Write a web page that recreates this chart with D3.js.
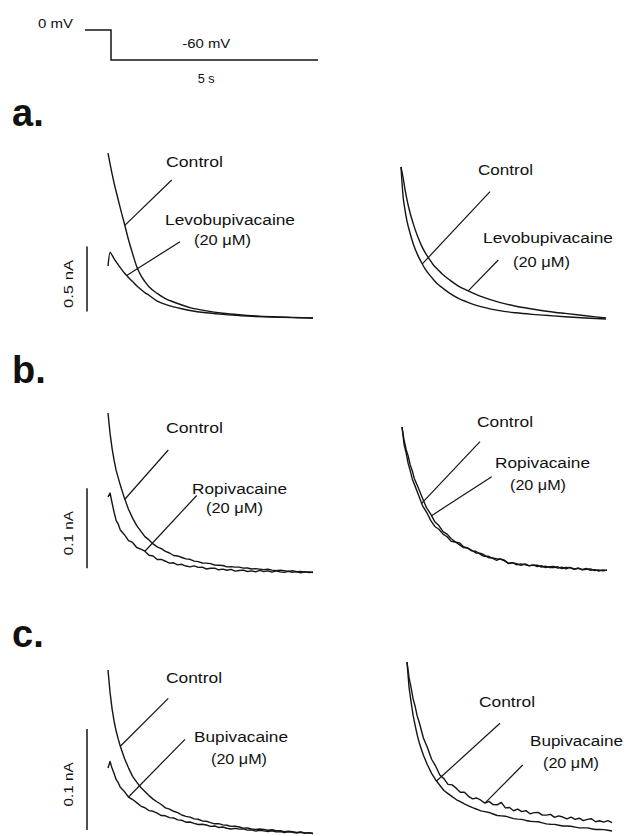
<!DOCTYPE html>
<html>
<head>
<meta charset="utf-8">
<script src="https://cdn.jsdelivr.net/npm/d3@7"></script>
<style>
html,body{margin:0;padding:0;background:#fff;}
svg text{font-family:"Liberation Sans",Arial,Helvetica,sans-serif;fill:#111;}
</style>
</head>
<body>
<svg id="fig" width="626" height="836"></svg>
<script>
// ===================== DATA =====================
// Voltage protocol (time in s, voltage in mV)
const protocolTime = [-0.63, 0, 0, 5];
const protocolVoltage = [0, 0, -60, -60];
const protocolLabels = ["0 mV", "-60 mV", "5 s"];

const panelLetters = ["a.", "b.", "c."];
const controlLabel = "Control";
const drugNames = ["Levobupivacaine", "Ropivacaine", "Bupivacaine"];
const concLabel = "(20 μM)";
const scaleBarValues = [0.5, 0.1, 0.1];            // nA
const scaleBarLabels = ["0.5 nA", "0.1 nA", "0.1 nA"];

// time bases (s)
const timeSmooth = [0, 0.05, 0.1, 0.15, 0.2, 0.3, 0.4, 0.5, 0.6, 0.7, 0.8, 0.9, 1.0, 1.2, 1.4, 1.6, 1.8, 2.0, 2.4, 2.8, 3.2, 3.6, 4.0, 4.5, 5.0];
const timeNoisy = [0, 0.05, 0.1, 0.15, 0.2, 0.25, 0.3, 0.4, 0.5, 0.6, 0.7, 0.8, 0.9, 1.0, 1.1, 1.2, 1.3, 1.4, 1.5, 1.6, 1.7, 1.8, 1.9, 2.0, 2.1, 2.2, 2.3, 2.4, 2.5, 2.6, 2.7, 2.8, 2.9, 3.0, 3.1, 3.2, 3.3, 3.4, 3.5, 3.6, 3.7, 3.8, 3.9, 4.0, 4.1, 4.2, 4.3, 4.4, 4.5, 4.6, 4.7, 4.8, 4.9, 5.0];

// a. left: tail current, nA
const aLeftControl = [1.269, 1.185, 1.108, 1.036, 0.971, 0.845, 0.725, 0.602, 0.495, 0.396, 0.328, 0.280, 0.240, 0.189, 0.149, 0.123, 0.100, 0.080, 0.055, 0.037, 0.025, 0.016, 0.010, 0.005, 0.000];
const aLeftLevo    = [0.400, 0.504, 0.483, 0.455, 0.432, 0.388, 0.346, 0.312, 0.280, 0.248, 0.221, 0.195, 0.175, 0.130, 0.105, 0.086, 0.071, 0.058, 0.040, 0.028, 0.018, 0.012, 0.007, 0.003, 0.000];
// a. right: scaled to peak
const aRightControl = [1.000, 0.810, 0.715, 0.641, 0.588, 0.497, 0.429, 0.376, 0.329, 0.293, 0.262, 0.233, 0.212, 0.172, 0.142, 0.119, 0.099, 0.084, 0.061, 0.047, 0.037, 0.029, 0.021, 0.013, 0.007];
const aRightLevo    = [1.000, 0.932, 0.851, 0.782, 0.722, 0.628, 0.550, 0.486, 0.435, 0.395, 0.356, 0.329, 0.302, 0.259, 0.222, 0.195, 0.171, 0.149, 0.115, 0.090, 0.072, 0.056, 0.043, 0.028, 0.013];

// b. left: nA
const bLeftControl = [0.2000, 0.1745, 0.1555, 0.1406, 0.1279, 0.1189, 0.1099, 0.0936, 0.0796, 0.0686, 0.0593, 0.0524, 0.0455, 0.0414, 0.0364, 0.0327, 0.0304, 0.0271, 0.0250, 0.0219, 0.0213, 0.0194, 0.0176, 0.0171, 0.0148, 0.0142, 0.0125, 0.0123, 0.0117, 0.0100, 0.0097, 0.0094, 0.0077, 0.0080, 0.0073, 0.0074, 0.0061, 0.0063, 0.0050, 0.0055, 0.0048, 0.0042, 0.0047, 0.0036, 0.0030, 0.0035, 0.0030, 0.0021, 0.0029, 0.0016, 0.0018, 0.0011, 0.0013, 0.0005];
const bLeftRopi    = [0.0950, 0.1000, 0.0875, 0.0756, 0.0655, 0.0610, 0.0538, 0.0479, 0.0404, 0.0382, 0.0319, 0.0299, 0.0272, 0.0222, 0.0212, 0.0168, 0.0169, 0.0147, 0.0123, 0.0128, 0.0102, 0.0109, 0.0087, 0.0076, 0.0089, 0.0070, 0.0073, 0.0050, 0.0060, 0.0060, 0.0040, 0.0048, 0.0034, 0.0046, 0.0024, 0.0032, 0.0036, 0.0019, 0.0027, 0.0015, 0.0033, 0.0017, 0.0026, 0.0011, 0.0027, 0.0014, 0.0008, 0.0022, 0.0008, 0.0017, 0.0003, 0.0017, 0.0006, 0.0013];
// b. right: scaled
const bRightControl = [1.000, 0.881, 0.821, 0.749, 0.699, 0.642, 0.606, 0.532, 0.458, 0.412, 0.356, 0.314, 0.295, 0.261, 0.243, 0.211, 0.207, 0.189, 0.168, 0.165, 0.146, 0.143, 0.124, 0.108, 0.109, 0.096, 0.081, 0.091, 0.081, 0.060, 0.064, 0.049, 0.056, 0.051, 0.042, 0.049, 0.038, 0.043, 0.031, 0.037, 0.038, 0.027, 0.033, 0.022, 0.032, 0.021, 0.026, 0.015, 0.019, 0.021, 0.010, 0.015, 0.008, 0.013];
const bRightRopi    = [1.000, 0.911, 0.845, 0.801, 0.738, 0.699, 0.645, 0.579, 0.509, 0.442, 0.399, 0.347, 0.320, 0.278, 0.261, 0.229, 0.208, 0.201, 0.174, 0.166, 0.150, 0.131, 0.130, 0.119, 0.100, 0.097, 0.092, 0.089, 0.077, 0.058, 0.063, 0.057, 0.046, 0.055, 0.044, 0.047, 0.047, 0.034, 0.040, 0.031, 0.031, 0.036, 0.024, 0.032, 0.029, 0.018, 0.027, 0.017, 0.024, 0.012, 0.016, 0.007, 0.015, 0.011];

// c. left: nA
const cLeftControl = [0.1624, 0.1402, 0.1237, 0.1114, 0.1017, 0.0939, 0.0869, 0.0750, 0.0655, 0.0571, 0.0514, 0.0460, 0.0420, 0.0380, 0.0345, 0.0317, 0.0292, 0.0259, 0.0247, 0.0225, 0.0212, 0.0188, 0.0175, 0.0167, 0.0150, 0.0146, 0.0129, 0.0126, 0.0113, 0.0101, 0.0103, 0.0090, 0.0087, 0.0075, 0.0077, 0.0069, 0.0058, 0.0059, 0.0050, 0.0046, 0.0050, 0.0045, 0.0037, 0.0042, 0.0032, 0.0032, 0.0024, 0.0028, 0.0024, 0.0016, 0.0020, 0.0011, 0.0011, 0.0005];
const cLeftBupi    = [0.0653, 0.0718, 0.0650, 0.0597, 0.0538, 0.0508, 0.0462, 0.0420, 0.0366, 0.0341, 0.0311, 0.0277, 0.0260, 0.0231, 0.0225, 0.0206, 0.0183, 0.0180, 0.0162, 0.0159, 0.0140, 0.0136, 0.0117, 0.0119, 0.0105, 0.0094, 0.0097, 0.0089, 0.0075, 0.0079, 0.0065, 0.0069, 0.0057, 0.0050, 0.0056, 0.0048, 0.0051, 0.0038, 0.0041, 0.0029, 0.0037, 0.0031, 0.0024, 0.0032, 0.0021, 0.0024, 0.0015, 0.0022, 0.0017, 0.0010, 0.0017, 0.0008, 0.0012, 0.0005];
// c. right: scaled
const cRightControl = [1.000, 0.851, 0.764, 0.684, 0.626, 0.570, 0.524, 0.451, 0.394, 0.345, 0.306, 0.275, 0.244, 0.226, 0.208, 0.191, 0.178, 0.165, 0.154, 0.143, 0.134, 0.124, 0.120, 0.115, 0.106, 0.097, 0.095, 0.093, 0.086, 0.079, 0.076, 0.074, 0.068, 0.063, 0.061, 0.060, 0.054, 0.048, 0.046, 0.045, 0.040, 0.035, 0.035, 0.034, 0.029, 0.024, 0.024, 0.024, 0.019, 0.015, 0.015, 0.014, 0.010, 0.006];
const cRightBupi    = [1.000, 0.908, 0.849, 0.782, 0.738, 0.681, 0.644, 0.553, 0.495, 0.428, 0.387, 0.335, 0.314, 0.280, 0.277, 0.258, 0.234, 0.234, 0.210, 0.195, 0.200, 0.187, 0.170, 0.180, 0.161, 0.160, 0.174, 0.142, 0.144, 0.125, 0.135, 0.120, 0.126, 0.107, 0.114, 0.115, 0.099, 0.099, 0.104, 0.086, 0.095, 0.088, 0.077, 0.087, 0.074, 0.081, 0.067, 0.074, 0.078, 0.060, 0.066, 0.058, 0.067, 0.055];

// ===================== LAYOUT =====================
const INK = "#151515";
const traceSpan = 205; // px for 5 s
const panelFrames = [
  {x0:108, base:318, top:188, yMax:1.0},   // a left (nA)
  {x0:401, base:320, top:167, yMax:1.0},   // a right (scaled)
  {x0:108, base:573, top:493, yMax:0.1},   // b left (nA)
  {x0:402, base:572, top:427, yMax:1.0},   // b right
  {x0:108, base:834, top:733, yMax:0.1},   // c left (nA)
  {x0:407, base:832, top:662, yMax:1.0}    // c right
];
const traces = [
  {panel:0, time:timeSmooth, values:aLeftControl,  smooth:true},
  {panel:0, time:timeSmooth, values:aLeftLevo,     smooth:true},
  {panel:1, time:timeSmooth, values:aRightControl, smooth:true},
  {panel:1, time:timeSmooth, values:aRightLevo,    smooth:true},
  {panel:2, time:timeNoisy,  values:bLeftControl,  smooth:false},
  {panel:2, time:timeNoisy,  values:bLeftRopi,     smooth:false},
  {panel:3, time:timeNoisy,  values:bRightControl, smooth:false},
  {panel:3, time:timeNoisy,  values:bRightRopi,    smooth:false},
  {panel:4, time:timeNoisy,  values:cLeftControl,  smooth:false},
  {panel:4, time:timeNoisy,  values:cLeftBupi,     smooth:false},
  {panel:5, time:timeNoisy,  values:cRightControl, smooth:false},
  {panel:5, time:timeNoisy,  values:cRightBupi,    smooth:false}
];
// annotation layout per panel: [x, baseline, width] ; leader: free end + anchor time on trace
const annot = [
  {ctrl:[166,167,57],   drug:[165,224.5,130], conc:[194,245,57],   lc:{from:[171.7,180],   t:0.41, tr:0}, ld:{from:[180,241.7],   t:0.456, tr:1}},
  {ctrl:[478,175,55],   drug:[483,243.3,130], conc:[513,266.7,57], lc:{from:[490,191.7],   t:0.52, tr:2}, ld:{from:[498.3,260],   t:1.64,  tr:3}},
  {ctrl:[166,433,57],   drug:[192,494,95],    conc:[206,513,57],   lc:{from:[168.3,450],   t:0.41, tr:4}, ld:{from:[196.7,495.5], t:0.9,   tr:5}},
  {ctrl:[477,427,56],   drug:[495,468.3,95],  conc:[510,490,56],   lc:{from:[480,441.7],   t:0.48, tr:6}, ld:{from:[491.7,476.7], t:0.72,  tr:7}},
  {ctrl:[166,682.7,56], drug:[194,741.7,94],  conc:[211,764,56],   lc:{from:[168.3,698.3], t:0.30, tr:8}, ld:{from:[185,739.3],   t:0.5,   tr:9}},
  {ctrl:[479,706.7,56], drug:[530,746,93],    conc:[543,768.3,56], lc:{from:[500,723.3],   t:0.72, tr:10},ld:{from:[522.7,765],   t:1.9,   tr:11}}
];
const rowLetters = [{x:12, y:126}, {x:12, y:383}, {x:12, y:647}];
const scaleBarLayout = [{x:87, from:0.05, panel:0}, {x:87, from:0.006, panel:2}, {x:87, from:0.004, panel:4}];
const scaleLabelLen = [48, 44, 44];

// ===================== DRAW =====================
const svg = d3.select("#fig");
svg.append("rect").attr("width",626).attr("height",836).attr("fill","#fff");

// --- protocol ---
const px = d3.scaleLinear().domain([0, 5]).range([111, 318]);
const pv = d3.scaleLinear().domain([-60, 0]).range([60, 30]);
const protoPts = protocolTime.map((t,i)=>[t, protocolVoltage[i]]);
svg.append("path")
  .attr("d", d3.line().x(d=>px(d[0])).y(d=>pv(d[1]))(protoPts))
  .attr("fill","none").attr("stroke",INK).attr("stroke-width",1.5);
svg.append("text").text(protocolLabels[0]).attr("x",38).attr("y",28)
  .attr("font-size",12.5).attr("textLength",35).attr("lengthAdjust","spacingAndGlyphs");
svg.append("text").text(protocolLabels[1]).attr("x",px(2.3)).attr("y",48).attr("text-anchor","middle")
  .attr("font-size",12.5).attr("textLength",48).attr("lengthAdjust","spacingAndGlyphs");
svg.append("text").text(protocolLabels[2]).attr("x",px(2.3)).attr("y",83).attr("text-anchor","middle")
  .attr("font-size",12.5).attr("textLength",17).attr("lengthAdjust","spacingAndGlyphs");

// --- row letters ---
panelLetters.forEach((L,i)=>{
  svg.append("text").text(L).attr("x",rowLetters[i].x).attr("y",rowLetters[i].y)
    .attr("font-size",38).attr("font-weight","bold");
});

// --- scales per panel ---
const scales = panelFrames.map(f=>({
  x: d3.scaleLinear().domain([0,5]).range([f.x0, f.x0+traceSpan]),
  y: d3.scaleLinear().domain([0, f.yMax]).range([f.base, f.top])
}));

// --- traces ---
traces.forEach(tr=>{
  const s = scales[tr.panel];
  const pts = tr.time.map((t,i)=>[t, tr.values[i]]);
  const line = d3.line().x(d=>s.x(d[0])).y(d=>s.y(d[1]))
    .curve(tr.smooth ? d3.curveMonotoneX : d3.curveLinear);
  svg.append("path").attr("d", line(pts)).attr("fill","none")
    .attr("stroke",INK).attr("stroke-width", tr.smooth ? 1.4 : 1.4)
    .attr("stroke-linejoin","round");
});

// --- annotations ---
function traceAt(trIdx, t){
  const tr = traces[trIdx];
  const s = scales[tr.panel];
  const f = d3.scaleLinear().domain(tr.time).range(tr.values);
  return [s.x(t), s.y(f(t))];
}
annot.forEach((a,i)=>{
  const row = Math.floor(i/2);
  const items = [[controlLabel, a.ctrl],[drugNames[row], a.drug],[concLabel, a.conc]];
  items.forEach(([txt,p])=>{
    svg.append("text").text(txt).attr("x",p[0]).attr("y",p[1])
      .attr("font-size",15.5).attr("textLength",p[2]).attr("lengthAdjust","spacingAndGlyphs");
  });
  [a.lc, a.ld].forEach(l=>{
    const end = traceAt(l.tr, l.t);
    svg.append("line").attr("x1",l.from[0]).attr("y1",l.from[1])
      .attr("x2",end[0]).attr("y2",end[1]).attr("stroke",INK).attr("stroke-width",1.2);
  });
});

// --- scale bars ---
scaleBarLayout.forEach((b,i)=>{
  const s = scales[b.panel];
  const y1 = s.y(b.from), y2 = s.y(b.from + scaleBarValues[i]);
  svg.append("line").attr("x1",b.x).attr("x2",b.x).attr("y1",y1).attr("y2",y2)
    .attr("stroke",INK).attr("stroke-width",1.5);
  const cy = (y1+y2)/2 + 5;
  svg.append("text").text(scaleBarLabels[i])
    .attr("transform",`translate(73,${cy}) rotate(-90)`)
    .attr("text-anchor","middle").attr("font-size",13)
    .attr("textLength",scaleLabelLen[i]).attr("lengthAdjust","spacingAndGlyphs");
});
</script>
</body>
</html>
